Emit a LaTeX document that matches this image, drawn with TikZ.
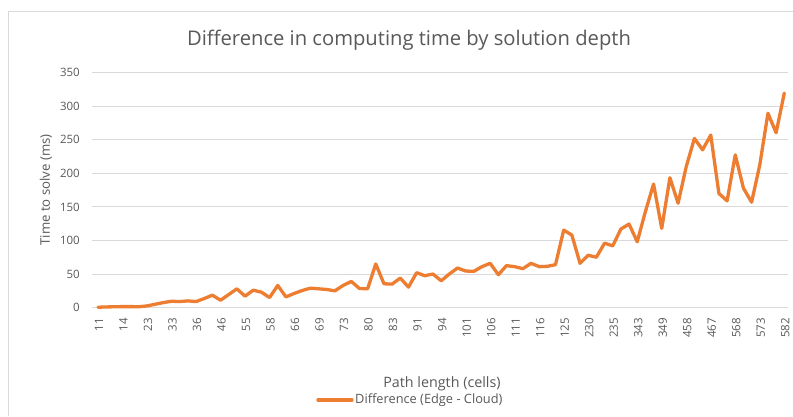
\documentclass[tikz,border=0pt]{standalone}
\usepackage{fontspec}
\setmainfont{Open Sans}
\definecolor{txtgray}{HTML}{595959}
\definecolor{gridgray}{HTML}{D9D9D9}
\definecolor{framegray}{HTML}{D9D9D9}
\definecolor{serorange}{HTML}{ED7D31}
\begin{document}
\begin{tikzpicture}[x=1pt,y=-1pt,
  ticklbl/.style={text=txtgray,font=\fontsize{11.5}{12}\selectfont,inner sep=0pt},
  axtitle/.style={text=txtgray,font=\fontsize{14.3}{15}\selectfont,inner sep=0pt},
  legtxt/.style={text=txtgray,font=\fontsize{12.8}{14}\selectfont,inner sep=0pt},
  gridline/.style={draw=gridgray,line width=0.9pt},
  series/.style={draw=serorange,line width=3.3pt,line join=round,line cap=round}]
\useasboundingbox (0,0) rectangle (793,416);
\fill[white] (0,0) rectangle (793,416);
\draw[framegray,line width=0.9pt] (8,416) -- (8,11) -- (793,11);
% title
\node[text=txtgray,font=\fontsize{20.2}{22}\selectfont,inner sep=0pt] (title) at (409,40) {Difference in computing time by solution depth};
% gridlines and y labels
\foreach \v [count=\k from 0] in {0,50,...,350}{
  \pgfmathsetmacro{\yy}{307.6-0.6713*\v}
  \draw[gridline] (92,\yy) -- (788,\yy);
  \node[ticklbl,anchor=east] (ylab\k) at (80,\yy) {\v};
}
% x labels
\foreach \lab [count=\k from 0] in {11,14,23,33,36,46,55,58,66,69,73,80,83,91,94,101,106,111,116,125,230,235,343,349,458,467,568,573,582}{
  \pgfmathsetmacro{\xx}{98+8.17*3*\k+1}
  \node[ticklbl,rotate=90,anchor=east] (xlab\k) at (\xx,318) {\lab};
}
% axis titles
\node[axtitle,font=\fontsize{13.2}{14}\selectfont,rotate=90] (ytitle) at (46,190) {Time to solve (ms)};
\node[axtitle] (xtitle) at (442,384) {Path length (cells)};
% series
\foreach \v [count=\i from 0] in {0.5,1,1.2,1.5,1.5,1.3,2.5,5,7.5,9.5,9,10,9,13.5,18.5,11,19.5,28,17,26,23,15,33,16,21,25.5,29,28,27,25,33,39,28.5,28,65,35.5,35,44,30.5,52,47.5,50,40,50,59,54.5,54,61,66,49,62.5,61,58,66,61,61.5,64,115.5,108,66,78,75,96,92,117,124.5,98,143,184,118,193.5,155.5,210,252,235,257,170,159,227.5,178,157,212.5,289.5,260.5,319.5}{
  \coordinate (p\i) at ({98+8.17*\i},{307.6-0.6713*\v});
}
\draw[series] (p0) \foreach \i in {1,...,84}{ -- (p\i)};
% legend
\coordinate (legA) at (318,400);
\coordinate (legB) at (352,400);
\draw[series] (legA) -- (legB);
\node[legtxt,anchor=west] (legtext) at (355,400) {Difference (Edge - Cloud)};
\end{tikzpicture}
\end{document}
